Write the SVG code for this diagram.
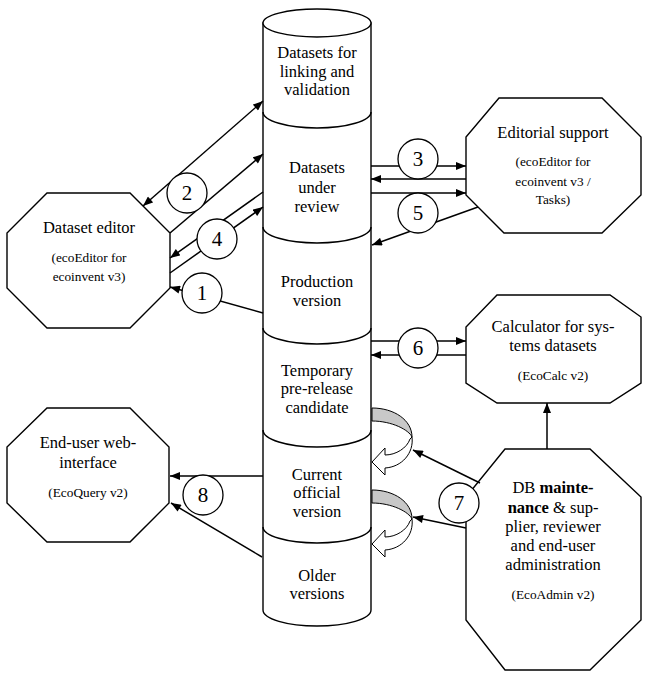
<svg xmlns="http://www.w3.org/2000/svg" width="649" height="673" viewBox="0 0 649 673">
<defs>
<style>
.shape{fill:#fff;stroke:#000;stroke-width:1.4}
.ln{fill:none;stroke:#000;stroke-width:1.5}
.conn line{stroke:#000;stroke-width:1.5;fill:none}
.t{font-family:"Liberation Serif","Times New Roman",serif;font-size:16.5px;text-anchor:middle;fill:#000}
.s{font-family:"Liberation Serif","Times New Roman",serif;font-size:13.3px;text-anchor:middle;fill:#000}
.n{font-family:"Liberation Serif","Times New Roman",serif;font-size:21px;text-anchor:middle;fill:#000}
.badge circle{fill:#fff;stroke:#000;stroke-width:1.3}
.grey{fill:#c8c8c8;stroke:#000;stroke-width:1}
.curl{fill:#fff;stroke:#000;stroke-width:1}
</style>
<marker id="ah" viewBox="0 0 10 8" refX="10" refY="4" markerWidth="11" markerHeight="8" markerUnits="userSpaceOnUse" orient="auto-start-reverse">
<path d="M0,0 L10,4 L0,8 z" fill="#000"/>
</marker>
<g id="curlShape">
<path class="grey" d="M0,0 C22,0 40,12 40,29 C37,22 20,13 0,13 Z"/>
<path class="curl" d="M40,29 C42,45 30,59 13,60 L13,67 L0,54 L13,40 L13,47 C24,47 35,40 38,31 Z"/>
</g>
</defs>
<rect width="649" height="673" fill="#fff"/>

<g id="database">
<path class="shape" d="M263,23 L263,610 A54,16 0 0 0 371,610 L371,23 Z"/>
<ellipse class="shape" cx="317" cy="23" rx="54" ry="14"/>
<path class="ln" d="M263,112 A54,16 0 0 0 371,112"/>
<path class="ln" d="M263,227 A54,16 0 0 0 371,227"/>
<path class="ln" d="M263,328 A54,16 0 0 0 371,328"/>
<path class="ln" d="M263,430 A54,17 0 0 0 371,430"/>
<path class="ln" d="M263,527 A54,16 0 0 0 371,527"/>
<text class="t" x="317" y="58">Datasets for</text>
<text class="t" x="317" y="77">linking and</text>
<text class="t" x="317" y="95">validation</text>
<text class="t" x="317" y="173">Datasets</text>
<text class="t" x="317" y="193">under</text>
<text class="t" x="317" y="212">review</text>
<text class="t" x="317" y="287">Production</text>
<text class="t" x="317" y="306">version</text>
<text class="t" x="317" y="376">Temporary</text>
<text class="t" x="317" y="394">pre-release</text>
<text class="t" x="317" y="413">candidate</text>
<text class="t" x="317" y="480">Current</text>
<text class="t" x="317" y="498">official</text>
<text class="t" x="317" y="517">version</text>
<text class="t" x="317" y="581">Older</text>
<text class="t" x="317" y="599">versions</text>
</g>

<g id="dataset-editor">
<polygon class="shape" points="47,193 130,193 170,233 170,288 130,328 47,328 7,288 7,233"/>
<text class="t" x="89" y="233">Dataset editor</text>
<text class="s" x="89" y="262">(ecoEditor for</text>
<text class="s" x="89" y="281">ecoinvent v3)</text>
</g>

<g id="editorial-support">
<polygon class="shape" points="499,98 602,98 641,137 641,195 602,233 504,233 466,195 466,137"/>
<text class="t" x="553" y="138">Editorial support</text>
<text class="s" x="553" y="166">(ecoEditor for</text>
<text class="s" x="553" y="186">ecoinvent v3 /</text>
<text class="s" x="553" y="204">Tasks)</text>
</g>

<g id="calculator">
<polygon class="shape" points="497,295 610,295 641,317 641,383 610,403 497,403 466,383 466,327"/>
<text class="t" x="553" y="332">Calculator for sys-</text>
<text class="t" x="553" y="351">tems datasets</text>
<text class="s" x="553" y="380">(EcoCalc v2)</text>
</g>

<g id="end-user">
<polygon class="shape" points="47,408 130,408 169,447 169,503 130,542 47,542 7,503 7,447"/>
<text class="t" x="88" y="448">End-user web-</text>
<text class="t" x="88" y="468">interface</text>
<text class="s" x="88" y="497">(EcoQuery v2)</text>
</g>

<g id="db-maintenance">
<polygon class="shape" points="505,449 590,449 641,497 641,620 590,670 505,670 466,620 466,497"/>
<text class="t" x="553" y="493">DB <tspan font-weight="bold">mainte-</tspan></text>
<text class="t" x="553" y="513"><tspan font-weight="bold">nance</tspan> &amp; sup-</text>
<text class="t" x="553" y="532">plier, reviewer</text>
<text class="t" x="553" y="551">and end-user</text>
<text class="t" x="553" y="570">administration</text>
<text class="s" x="553" y="599">(EcoAdmin v2)</text>
</g>

<g id="connectors" class="conn">
<line x1="143" y1="206" x2="263" y2="101" marker-start="url(#ah)" marker-end="url(#ah)"/>
<line x1="170" y1="233" x2="263" y2="154" marker-end="url(#ah)"/>
<line x1="263" y1="192" x2="170" y2="258" marker-end="url(#ah)"/>
<line x1="170" y1="273" x2="263" y2="207" marker-end="url(#ah)"/>
<line x1="263" y1="313" x2="170" y2="287" marker-end="url(#ah)"/>
<line x1="371" y1="166" x2="466" y2="166" marker-end="url(#ah)"/>
<line x1="466" y1="179" x2="371" y2="179" marker-end="url(#ah)"/>
<line x1="371" y1="193" x2="466" y2="193" marker-end="url(#ah)"/>
<line x1="478" y1="207" x2="372" y2="245" marker-end="url(#ah)"/>
<line x1="371" y1="341" x2="466" y2="341" marker-end="url(#ah)"/>
<line x1="466" y1="355" x2="371" y2="355" marker-end="url(#ah)"/>
<line x1="547" y1="449" x2="547" y2="403" marker-end="url(#ah)"/>
<line x1="480" y1="483" x2="413" y2="450" marker-end="url(#ah)"/>
<line x1="466" y1="528" x2="413" y2="517" marker-end="url(#ah)"/>
<line x1="263" y1="476" x2="170" y2="476" marker-end="url(#ah)"/>
<line x1="262" y1="557" x2="171" y2="503" marker-end="url(#ah)"/>
<use href="#curlShape" transform="translate(372,408)"/>
<use href="#curlShape" transform="translate(372,490)"/>
</g>

<g id="badges" class="badge">
<g id="badge-1"><circle cx="202" cy="293" r="20"/><text class="n" x="202" y="300">1</text></g>
<g id="badge-2"><circle cx="187" cy="193" r="20"/><text class="n" x="187" y="200">2</text></g>
<g id="badge-3"><circle cx="418" cy="159" r="20"/><text class="n" x="418" y="166">3</text></g>
<g id="badge-4"><circle cx="217" cy="239" r="20"/><text class="n" x="217" y="246">4</text></g>
<g id="badge-5"><circle cx="418" cy="213" r="20"/><text class="n" x="418" y="220">5</text></g>
<g id="badge-6"><circle cx="418" cy="348" r="20"/><text class="n" x="418" y="355">6</text></g>
<g id="badge-7"><circle cx="459" cy="503" r="20"/><text class="n" x="459" y="510">7</text></g>
<g id="badge-8"><circle cx="203" cy="495" r="20"/><text class="n" x="203" y="502">8</text></g>
</g>
</svg>
